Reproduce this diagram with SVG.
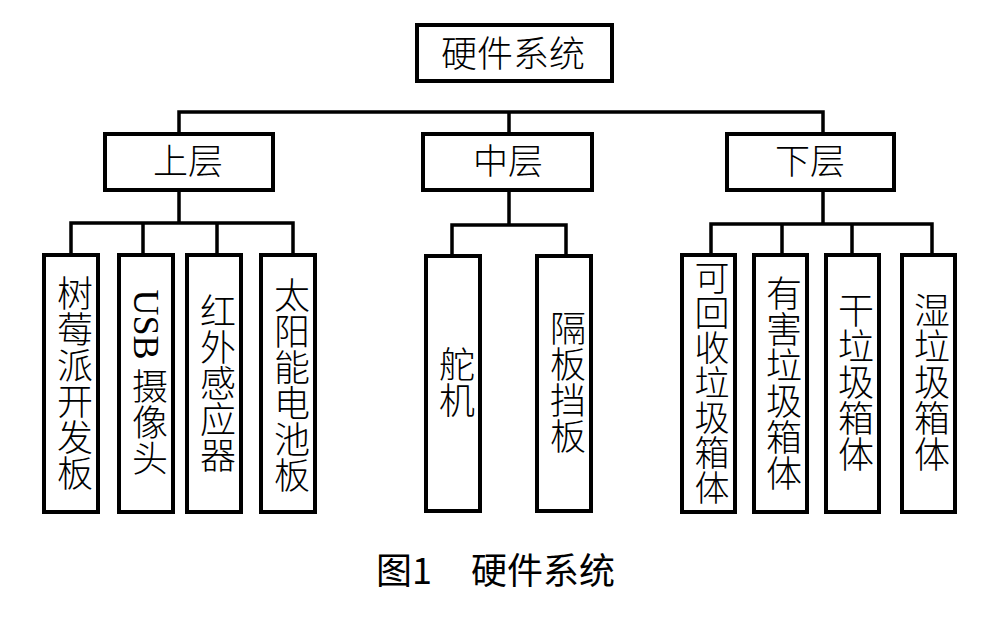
<svg xmlns="http://www.w3.org/2000/svg" width="1001" height="628" viewBox="0 0 1001 628">
<style>
.box{fill:#fff;stroke:#000;stroke-width:4}
.ln{fill:none;stroke:#000;stroke-width:3.5;stroke-linecap:square}
.t{font-family:"Liberation Serif","Noto Sans CJK SC",serif;font-weight:300;fill:#000;text-anchor:middle;dominant-baseline:central}
.v{writing-mode:vertical-rl;font-size:36px}
.cap{font-family:"Noto Sans CJK SC","Noto Sans",sans-serif;font-size:36px;fill:#000}
</style>
<rect width="1001" height="628" fill="#fff"/>
<g id="connectors">
<path class="ln" d="M179,112 H823 M179,112 V133 M509,112 V134 M823,112 V134"/>
<path class="ln" d="M179,190 V223 M71,223 H293 M71,223 V255 M143,223 V255 M217,223 V255 M293,223 V255"/>
<path class="ln" d="M509,190 V225 M452,225 H566 M452,225 V256 M566,225 V256"/>
<path class="ln" d="M823,190 V224 M711,224 H932 M711,224 V255 M782,224 V255 M852,224 V255 M932,224 V255"/>
</g>
<g id="root"><rect class="box" x="417" y="25" width="195" height="56"/><text class="t" x="513" y="55" font-size="36">硬件系统</text></g>
<g id="upper"><rect class="box" x="105" y="134" width="168" height="56"/><text class="t" x="188" y="162" font-size="35">上层</text></g>
<g id="middle"><rect class="box" x="423" y="134" width="169" height="56"/><text class="t" x="508" y="162" font-size="35">中层</text></g>
<g id="lower"><rect class="box" x="727" y="134" width="167" height="56"/><text class="t" x="810" y="162" font-size="35">下层</text></g>
<g id="n-raspberry"><rect class="box" x="44" y="255" width="54" height="257"/><text class="t v" x="71" y="383">树莓派开发板</text></g>
<g id="n-usb"><rect class="box" x="119" y="255" width="54" height="257"/><text class="t v" x="146" y="383">USB 摄像头</text></g>
<g id="n-ir"><rect class="box" x="187" y="255" width="54" height="257"/><text class="t v" x="214" y="383">红外感应器</text></g>
<g id="n-solar"><rect class="box" x="261" y="255" width="54" height="257"/><text class="t v" x="288" y="385">太阳能电池板</text></g>
<g id="n-servo"><rect class="box" x="426" y="256" width="54" height="255"/><text class="t v" x="453" y="382">舵机</text></g>
<g id="n-baffle"><rect class="box" x="537" y="256" width="54" height="255"/><text class="t v" x="564" y="382">隔板挡板</text></g>
<g id="n-recycle"><rect class="box" x="682" y="255" width="53" height="257"/><text class="t v" x="708" y="383" style="font-size:35px">可回收垃圾箱体</text></g>
<g id="n-hazard"><rect class="box" x="754" y="255" width="53" height="257"/><text class="t v" x="780" y="383">有害垃圾箱体</text></g>
<g id="n-dry"><rect class="box" x="826" y="255" width="53" height="257"/><text class="t v" x="852" y="382">干垃圾箱体</text></g>
<g id="n-wet"><rect class="box" x="902" y="255" width="53" height="257"/><text class="t v" x="928" y="382">湿垃圾箱体</text></g>
<text class="cap" y="584"><tspan x="376">图1</tspan><tspan x="471">硬件系统</tspan></text>
</svg>
